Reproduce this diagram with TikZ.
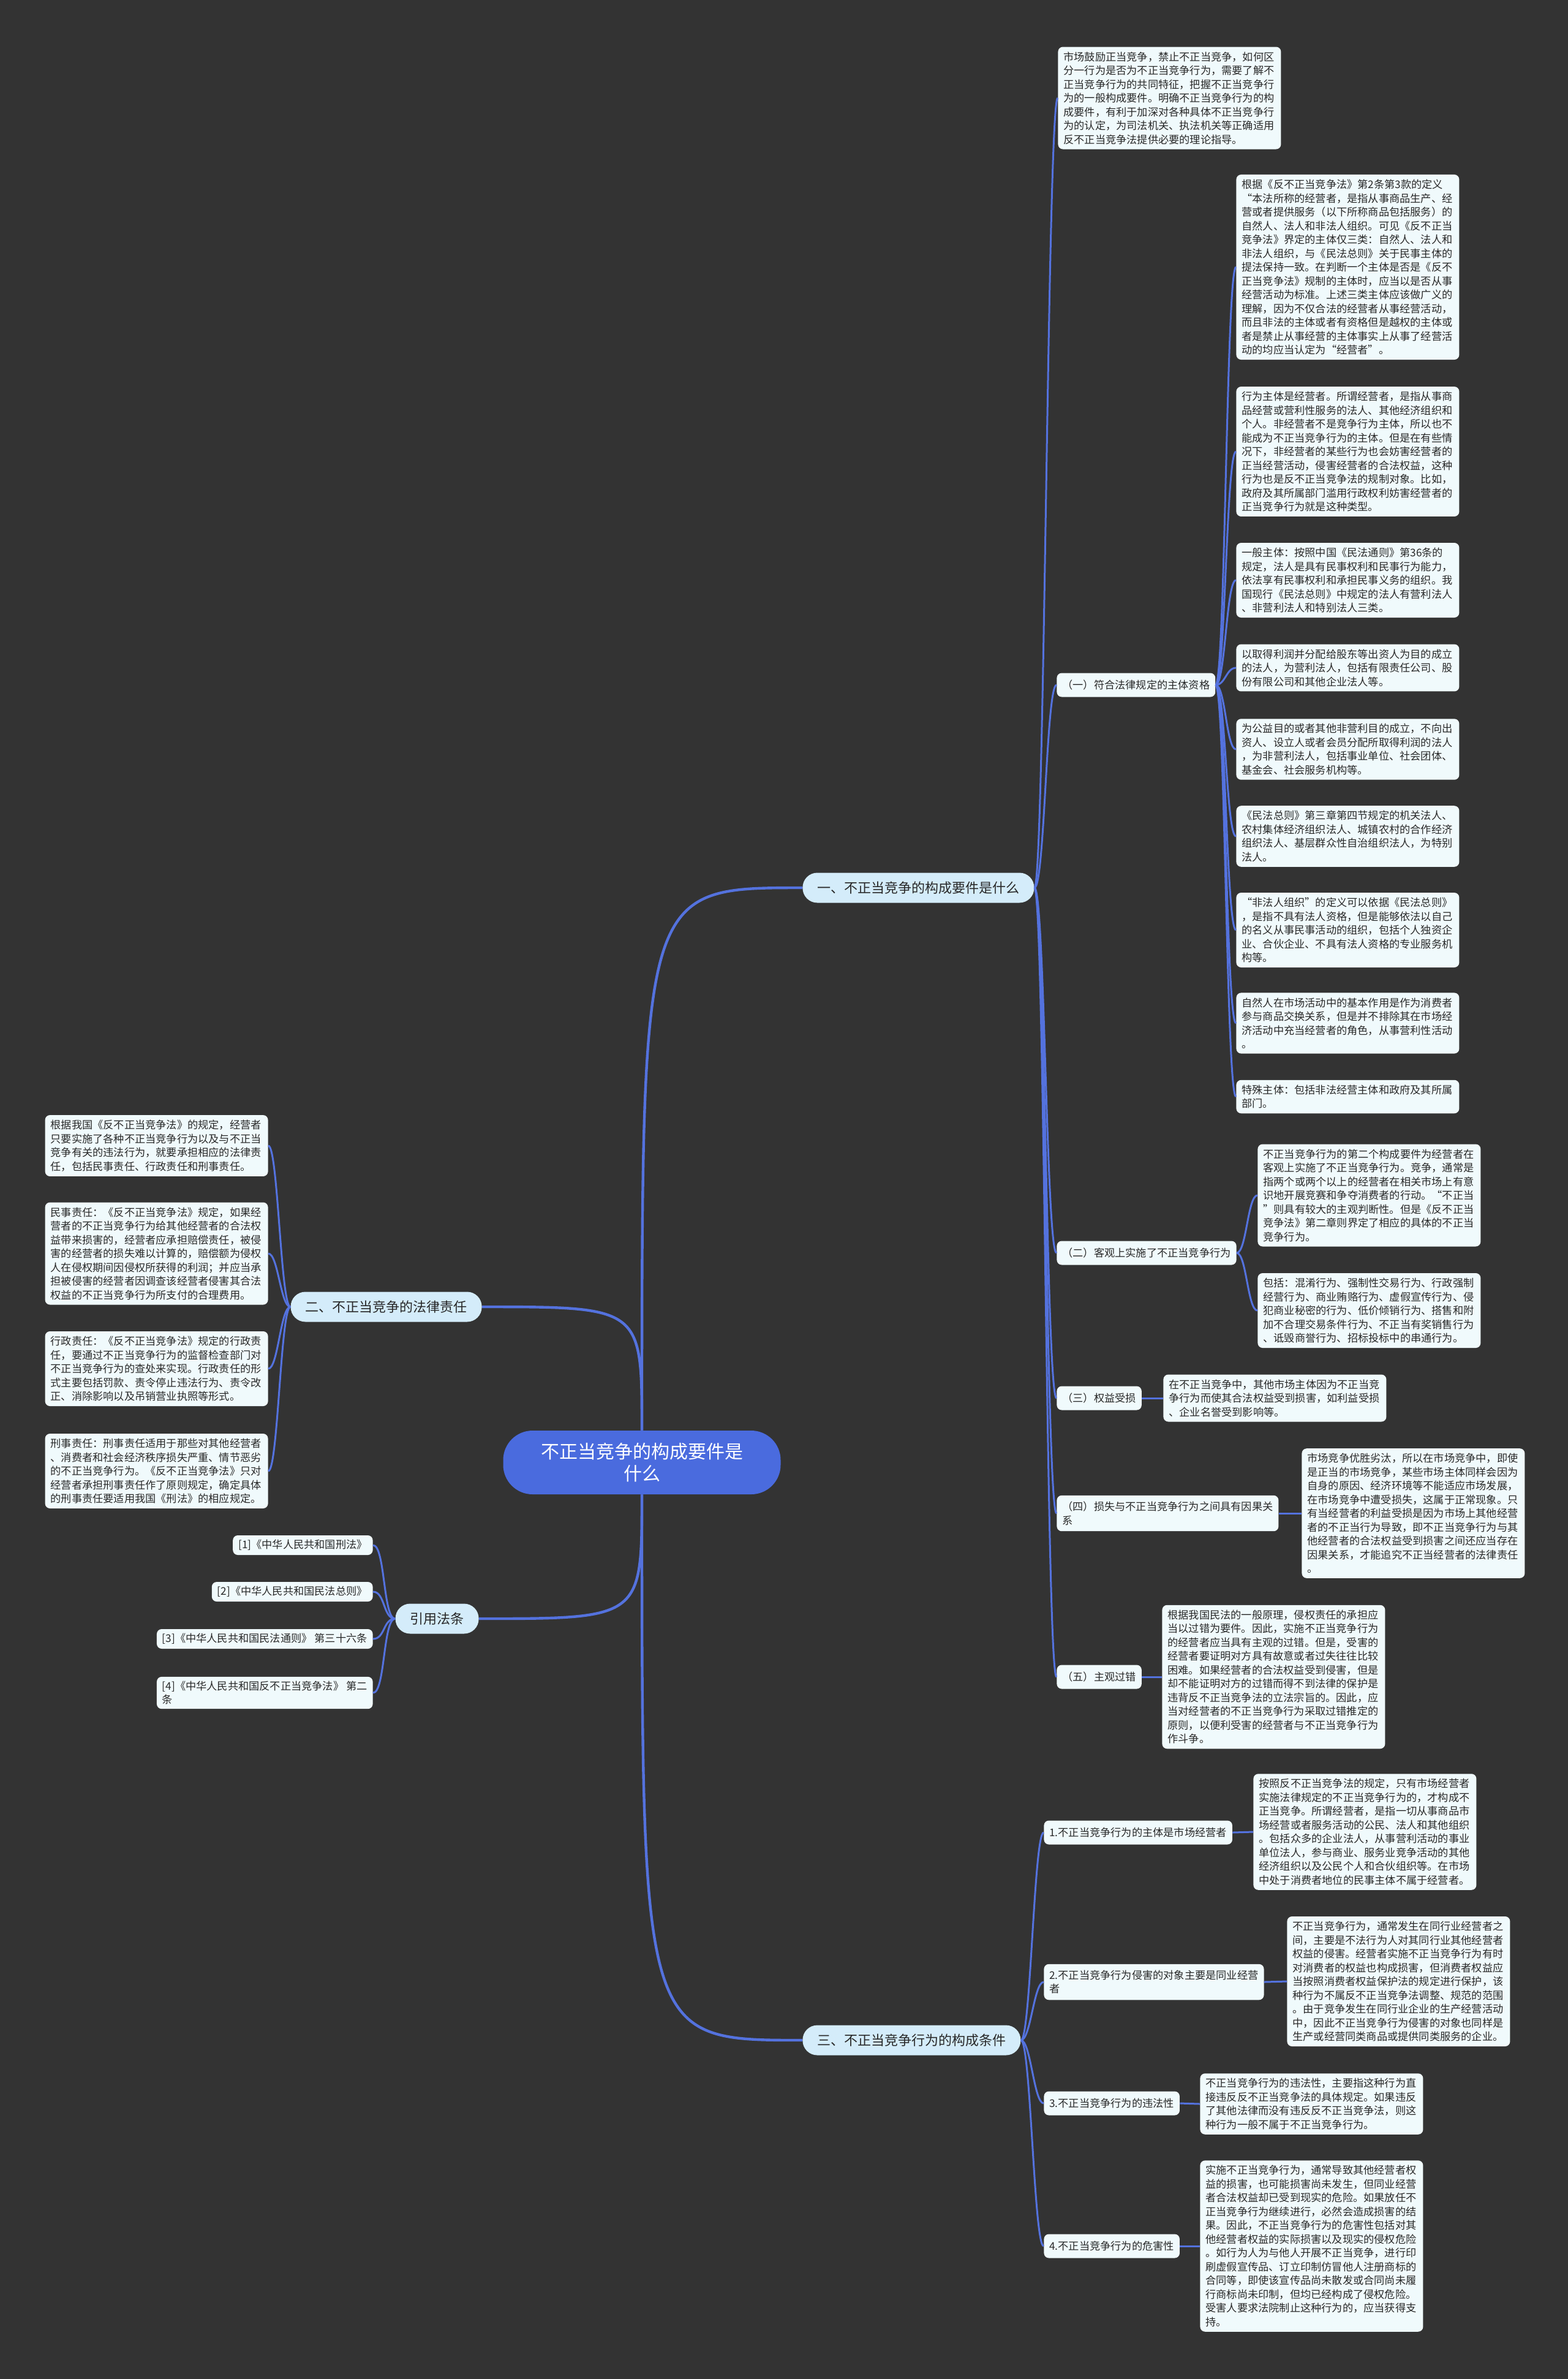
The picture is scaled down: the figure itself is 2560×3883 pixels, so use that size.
\documentclass[tikz,border=0pt]{standalone}
\usepackage{fontspec}
\setmainfont{Noto Sans CJK SC}
\definecolor{bgcol}{RGB}{51,51,51}
\definecolor{leafcol}{RGB}{240,250,252}
\definecolor{maincol}{RGB}{212,236,250}
\definecolor{rootcol}{RGB}{74,107,222}
\definecolor{linkcol}{RGB}{84,114,222}
\definecolor{inkcol}{RGB}{40,40,40}

\begin{document}
\begin{tikzpicture}[
  x=0.5pt, y=-0.5pt,
  rootnode/.style={fill=rootcol, text=white, rounded corners=24pt,
    font=\fontsize{15}{18}\selectfont, minimum width=226.5pt,
    minimum height=52pt, align=center},
  mainnode/.style={fill=maincol, text=inkcol, rounded corners=12pt,
    font=\fontsize{11}{13}\selectfont, inner xsep=12pt, minimum height=24.5pt},
  subnode/.style={fill=leafcol, text=inkcol, rounded corners=4pt,
    font=\fontsize{8.6}{11.25}\selectfont, inner xsep=4.5pt, inner ysep=5pt,
    minimum height=19.5pt, align=left, anchor=west},
  leafbox/.style={fill=leafcol, text=inkcol, rounded corners=4pt,
    font=\fontsize{8.6}{11.25}\selectfont, text width=173pt, align=left,
    inner xsep=4.5pt, inner ysep=4pt, anchor=west},
  citebox/.style={subnode, inner ysep=3.5pt, minimum height=16pt, anchor=east},
  branch/.style={draw=linkcol, line width=1.5pt},
  trunk/.style={draw=linkcol, line width=2.2pt},
]
  \useasboundingbox (0,0) rectangle (2560,3883);
  \fill[bgcol] (0,0) rectangle (2560,3883);

  \node[rootnode] (root) at (1048,2387) {不正当竞争的构成要件是\\什么};
  \node[mainnode, anchor=west] (one) at (1310,1449) {一、不正当竞争的构成要件是什么};
  \node[mainnode, anchor=east] (two) at (787,2133) {二、不正当竞争的法律责任};
  \node[mainnode, anchor=east] (cite) at (782,2642) {引用法条};
  \node[mainnode, anchor=west] (three) at (1310,3330) {三、不正当竞争行为的构成条件};

  \node[leafbox] (t0) at (1727,160) {市场鼓励正当竞争，禁止不正当竞争，如何区\\分一行为是否为不正当竞争行为，需要了解不\\正当竞争行为的共同特征，把握不正当竞争行\\为的一般构成要件。明确不正当竞争行为的构\\成要件，有利于加深对各种具体不正当竞争行\\为的认定，为司法机关、执法机关等正确适用\\反不正当竞争法提供必要的理论指导。};
  \node[subnode] (s1) at (1725,1118) {（一）符合法律规定的主体资格};
  \node[subnode] (s2) at (1725,2045) {（二）客观上实施了不正当竞争行为};
  \node[subnode] (s3) at (1725,2282) {（三）权益受损};
  \node[subnode] (s4) at (1725,2470) {（四）损失与不正当竞争行为之间具有因果关\\系};
  \node[subnode] (s5) at (1725,2737) {（五）主观过错};

  \node[leafbox] (a1) at (2018,436) {根据《反不正当竞争法》第2条第3款的定义\\“本法所称的经营者，是指从事商品生产、经\\营或者提供服务（以下所称商品包括服务）的\\自然人、法人和非法人组织。可见《反不正当\\竞争法》界定的主体仅三类：自然人、法人和\\非法人组织，与《民法总则》关于民事主体的\\提法保持一致。在判断一个主体是否是《反不\\正当竞争法》规制的主体时，应当以是否从事\\经营活动为标准。上述三类主体应该做广义的\\理解，因为不仅合法的经营者从事经营活动，\\而且非法的主体或者有资格但是越权的主体或\\者是禁止从事经营的主体事实上从事了经营活\\动的均应当认定为“经营者”。};
  \node[leafbox] (a2) at (2018,737) {行为主体是经营者。所谓经营者，是指从事商\\品经营或营利性服务的法人、其他经济组织和\\个人。非经营者不是竞争行为主体，所以也不\\能成为不正当竞争行为的主体。但是在有些情\\况下，非经营者的某些行为也会妨害经营者的\\正当经营活动，侵害经营者的合法权益，这种\\行为也是反不正当竞争法的规制对象。比如，\\政府及其所属部门滥用行政权利妨害经营者的\\正当竞争行为就是这种类型。};
  \node[leafbox] (a3) at (2018,947) {一般主体：按照中国《民法通则》第36条的\\规定，法人是具有民事权利和民事行为能力，\\依法享有民事权利和承担民事义务的组织。我\\国现行《民法总则》中规定的法人有营利法人\\、非营利法人和特别法人三类。};
  \node[leafbox] (a4) at (2018,1090) {以取得利润并分配给股东等出资人为目的成立\\的法人，为营利法人，包括有限责任公司、股\\份有限公司和其他企业法人等。};
  \node[leafbox] (a5) at (2018,1223) {为公益目的或者其他非营利目的成立，不向出\\资人、设立人或者会员分配所取得利润的法人\\，为非营利法人，包括事业单位、社会团体、\\基金会、社会服务机构等。};
  \node[leafbox] (a6) at (2018,1365) {《民法总则》第三章第四节规定的机关法人、\\农村集体经济组织法人、城镇农村的合作经济\\组织法人、基层群众性自治组织法人，为特别\\法人。};
  \node[leafbox] (a7) at (2018,1518) {“非法人组织”的定义可以依据《民法总则》\\，是指不具有法人资格，但是能够依法以自己\\的名义从事民事活动的组织，包括个人独资企\\业、合伙企业、不具有法人资格的专业服务机\\构等。};
  \node[leafbox] (a8) at (2018,1670) {自然人在市场活动中的基本作用是作为消费者\\参与商品交换关系，但是并不排除其在市场经\\济活动中充当经营者的角色，从事营利性活动\\。};
  \node[leafbox] (a9) at (2018,1790) {特殊主体：包括非法经营主体和政府及其所属\\部门。};

  \node[leafbox] (e1) at (2053,1951) {不正当竞争行为的第二个构成要件为经营者在\\客观上实施了不正当竞争行为。竞争，通常是\\指两个或两个以上的经营者在相关市场上有意\\识地开展竞赛和争夺消费者的行动。“不正当\\”则具有较大的主观判断性。但是《反不正当\\竞争法》第二章则界定了相应的具体的不正当\\竞争行为。};
  \node[leafbox] (e2) at (2053,2139) {包括：混淆行为、强制性交易行为、行政强制\\经营行为、商业贿赂行为、虚假宣传行为、侵\\犯商业秘密的行为、低价倾销行为、搭售和附\\加不合理交易条件行为、不正当有奖销售行为\\、诋毁商誉行为、招标投标中的串通行为。};
  \node[leafbox] (c3) at (1899,2282) {在不正当竞争中，其他市场主体因为不正当竞\\争行为而使其合法权益受到损害，如利益受损\\、企业名誉受到影响等。};
  \node[leafbox] (c4) at (2125,2470) {市场竞争优胜劣汰，所以在市场竞争中，即使\\是正当的市场竞争，某些市场主体同样会因为\\自身的原因、经济环境等不能适应市场发展，\\在市场竞争中遭受损失，这属于正常现象。只\\有当经营者的利益受损是因为市场上其他经营\\者的不正当行为导致，即不正当竞争行为与其\\他经营者的合法权益受到损害之间还应当存在\\因果关系，才能追究不正当经营者的法律责任\\。};
  \node[leafbox] (c5) at (1897,2737) {根据我国民法的一般原理，侵权责任的承担应\\当以过错为要件。因此，实施不正当竞争行为\\的经营者应当具有主观的过错。但是，受害的\\经营者要证明对方具有故意或者过失往往比较\\困难。如果经营者的合法权益受到侵害，但是\\却不能证明对方的过错而得不到法律的保护是\\违背反不正当竞争法的立法宗旨的。因此，应\\当对经营者的不正当竞争行为采取过错推定的\\原则，以便利受害的经营者与不正当竞争行为\\作斗争。};

  \node[leafbox, anchor=east] (b1) at (438,1870) {根据我国《反不正当竞争法》的规定，经营者\\只要实施了各种不正当竞争行为以及与不正当\\竞争有关的违法行为，就要承担相应的法律责\\任，包括民事责任、行政责任和刑事责任。};
  \node[leafbox, anchor=east] (b2) at (438,2046) {民事责任：《反不正当竞争法》规定，如果经\\营者的不正当竞争行为给其他经营者的合法权\\益带来损害的，经营者应承担赔偿责任，被侵\\害的经营者的损失难以计算的，赔偿额为侵权\\人在侵权期间因侵权所获得的利润；并应当承\\担被侵害的经营者因调查该经营者侵害其合法\\权益的不正当竞争行为所支付的合理费用。};
  \node[leafbox, anchor=east] (b3) at (438,2234) {行政责任：《反不正当竞争法》规定的行政责\\任，要通过不正当竞争行为的监督检查部门对\\不正当竞争行为的查处来实现。行政责任的形\\式主要包括罚款、责令停止违法行为、责令改\\正、消除影响以及吊销营业执照等形式。};
  \node[leafbox, anchor=east] (b4) at (438,2401) {刑事责任：刑事责任适用于那些对其他经营者\\、消费者和社会经济秩序损失严重、情节恶劣\\的不正当竞争行为。《反不正当竞争法》只对\\经营者承担刑事责任作了原则规定，确定具体\\的刑事责任要适用我国《刑法》的相应规定。};

  \node[citebox] (k1) at (609,2522) {[1]《中华人民共和国刑法》};
  \node[citebox] (k2) at (609,2598) {[2]《中华人民共和国民法总则》};
  \node[citebox] (k3) at (609,2675) {[3]《中华人民共和国民法通则》 第三十六条};
  \node[citebox] (k4) at (609,2763) {[4]《中华人民共和国反不正当竞争法》 第二\\条};

  \node[subnode] (r1) at (1704,2991) {1.不正当竞争行为的主体是市场经营者};
  \node[subnode] (r2) at (1704,3235) {2.不正当竞争行为侵害的对象主要是同业经营\\者};
  \node[subnode] (r3) at (1704,3433) {3.不正当竞争行为的违法性};
  \node[subnode] (r4) at (1704,3666) {4.不正当竞争行为的危害性};
  \node[leafbox] (q1) at (2046,2990) {按照反不正当竞争法的规定，只有市场经营者\\实施法律规定的不正当竞争行为的，才构成不\\正当竞争。所谓经营者，是指一切从事商品市\\场经营或者服务活动的公民、法人和其他组织\\。包括众多的企业法人，从事营利活动的事业\\单位法人，参与商业、服务业竞争活动的其他\\经济组织以及公民个人和合伙组织等。在市场\\中处于消费者地位的民事主体不属于经营者。};
  \node[leafbox] (q2) at (2101,3234) {不正当竞争行为，通常发生在同行业经营者之\\间，主要是不法行为人对其同行业其他经营者\\权益的侵害。经营者实施不正当竞争行为有时\\对消费者的权益也构成损害，但消费者权益应\\当按照消费者权益保护法的规定进行保护，该\\种行为不属反不正当竞争法调整、规范的范围\\。由于竞争发生在同行业企业的生产经营活动\\中，因此不正当竞争行为侵害的对象也同样是\\生产或经营同类商品或提供同类服务的企业。};
  \node[leafbox] (q3) at (1959,3434) {不正当竞争行为的违法性，主要指这种行为直\\接违反反不正当竞争法的具体规定。如果违反\\了其他法律而没有违反反不正当竞争法，则这\\种行为一般不属于不正当竞争行为。};
  \node[leafbox] (q4) at (1959,3666) {实施不正当竞争行为，通常导致其他经营者权\\益的损害，也可能损害尚未发生，但同业经营\\者合法权益却已受到现实的危险。如果放任不\\正当竞争行为继续进行，必然会造成损害的结\\果。因此，不正当竞争行为的危害性包括对其\\他经营者权益的实际损害以及现实的侵权危险\\。如行为人为与他人开展不正当竞争，进行印\\刷虚假宣传品、订立印制仿冒他人注册商标的\\合同等，即使该宣传品尚未散发或合同尚未履\\行商标尚未印制，但均已经构成了侵权危险。\\受害人要求法院制止这种行为的，应当获得支\\持。};

  \draw[trunk] (root.north) .. controls (root.north |- one.west) .. (one.west);
  \draw[trunk] (root.north) .. controls (root.north |- two.east) .. (two.east);
  \draw[trunk] (root.south) .. controls (root.south |- cite.east) .. (cite.east);
  \draw[trunk] (root.south) .. controls (root.south |- three.west) .. (three.west);

  \foreach \kid in {t0,s1,s2,s3,s4,s5}
    \draw[branch] (one.east) .. controls +(17,0) and +(-17,0) .. (\kid.west);
  \foreach \kid in {a1,a2,a3,a4,a5,a6,a7,a8,a9}
    \draw[branch] (s1.east) .. controls +(16,0) and +(-16,0) .. (\kid.west);
  \foreach \kid in {e1,e2}
    \draw[branch] (s2.east) .. controls +(16,0) and +(-16,0) .. (\kid.west);
  \foreach \kid in {3,4,5}
    \draw[branch] (s\kid.east) -- (c\kid.west);

  \foreach \kid in {b1,b2,b3,b4}
    \draw[branch] (two.west) .. controls +(-16,0) and +(16,0) .. (\kid.east);
  \foreach \kid in {k1,k2,k3,k4}
    \draw[branch] (cite.west) .. controls +(-20,0) and +(20,0) .. (\kid.east);

  \foreach \kid in {1,2,3,4} {
    \draw[branch] (three.east) .. controls +(16,0) and +(-16,0) .. (r\kid.west);
    \draw[branch] (r\kid.east) -- (q\kid.west);
  }
\end{tikzpicture}
\end{document}
